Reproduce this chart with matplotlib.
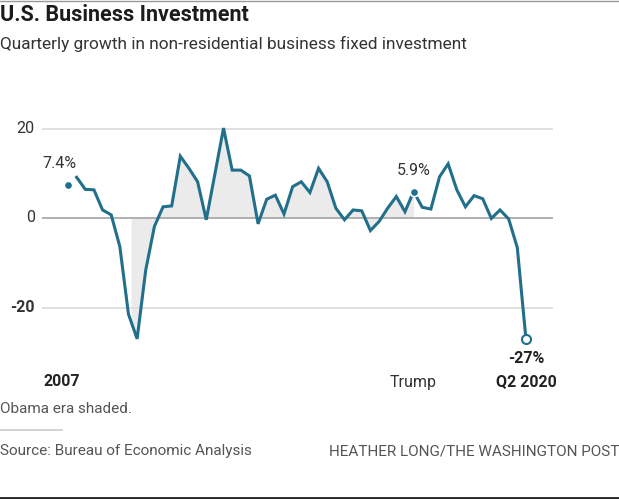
import matplotlib
matplotlib.use("Agg")
import matplotlib.pyplot as plt
import matplotlib.transforms as mtransforms
import numpy as np

# Quarterly growth (%), 2007 Q1 .. 2020 Q2
quarters = np.arange(54)
growth = [
    7.4, 9.1, 6.4, 6.3, 1.8, 0.7, -6.4, -21.5, -27.0, -11.6,
    -1.9, 2.5, 2.7, 13.8, 11.1, 8.1, -0.4, 9.8, 20.1, 10.7,
    10.7, 9.4, -1.3, 4.2, 5.1, 0.9, 7.0, 8.1, 5.7, 11.1,
    8.1, 2.2, -0.4, 1.8, 1.6, -2.8, -0.8, 2.2, 4.8, 1.4,
    5.9, 2.4, 2.0, 9.2, 12.1, 6.3, 2.5, 5.0, 4.3, -0.1,
    1.8, -0.2, -6.6, -27.0,
]
obama_span = (7.3, 40.0)      # quarter index range shaded
callouts = [(0, "7.4%"), (40, "5.9%")]
yticks = [20, 0, -20]

LINE = "#226f8b"
FONT = ["Liberation Sans Narrow", "Roboto", "DejaVu Sans"]

W, H = 619, 499
fig = plt.figure(figsize=(W / 100, H / 100), dpi=100)
fig.patch.set_facecolor("white")

# axes placed so the gridlines run from x=42 to x=553 px
ax = fig.add_axes([41.7 / W, 1 - 350 / H, 511 / W, 250 / H])
ax.set_xlim((41.7 - 68) / 8.64, (552.7 - 68) / 8.64)
ax.set_ylim((218 - 350) / 4.475, (218 - 100) / 4.475)
ax.set_axis_off()

for v in yticks:
    ax.axhline(v, color="#aaaaaa" if v == 0 else "#dddddd", lw=1.3, zorder=1)

y = np.asarray(growth)
x = quarters
lo, hi = obama_span
inside = (x > lo) & (x < hi)
fx = np.concatenate([[lo], x[inside], [hi]])
fy = np.concatenate([[np.interp(lo, x, y)], y[inside], [np.interp(hi, x, y)]])
ax.fill_between(fx, fy, 0, color="#ebebeb", lw=0, zorder=0)

ax.plot(x[1:], y[1:], color=LINE, lw=2.2, solid_joinstyle="miter", zorder=3)
for i, lab in callouts:
    ax.plot(x[i], y[i], "o", ms=6, color=LINE, mec="white", mew=1.2, zorder=4)
    ax.annotate(lab, (x[i], y[i]), xytext=(-6 if i == 0 else 0, 10),
                textcoords="offset points", ha="center", va="bottom",
                fontsize=11.5, color="#333333", family=FONT)
ax.plot(x[-1], y[-1], "o", ms=6.5, mfc="white", mec=LINE, mew=1.5, zorder=5)
ax.annotate(f"{y[-1]:.0f}%", (x[-1], y[-1]), xytext=(0, -9),
            textcoords="offset points", ha="center", va="top",
            fontsize=11.5, weight="bold", color="#222222", family=FONT)

# y labels sit left of the gridlines
for v in yticks:
    ax.annotate(f"{v}", (0, v), xycoords=("axes fraction", "data"),
                xytext=(-5, 0), textcoords="offset points",
                ha="right", va="center", fontsize=11.5, color="#333333",
                weight="bold" if v < 0 else "normal", family=FONT)

# x labels
tr = mtransforms.blended_transform_factory(ax.transData, fig.transFigure)
ylab = 1 - 382 / H
ax.text(-0.75, ylab, "2007", transform=tr, ha="center", va="center",
        fontsize=11.5, weight="bold", color="#222222", family=FONT)
ax.text(40, ylab, "Trump", transform=tr, ha="center", va="center",
        fontsize=11.5, color="#333333", family=FONT)
ax.text(53, ylab, "Q2 2020", transform=tr, ha="center", va="center",
        fontsize=11.5, weight="bold", color="#222222", family=FONT)

fig.text(0, 1 - 15 / H, "U.S. Business Investment", ha="left", va="center",
         fontsize=15.5, weight="bold", color="#1c1c1c", family=FONT)
fig.text(0, 1 - 44 / H,
         "Quarterly growth in non-residential business fixed investment",
         ha="left", va="center", fontsize=12.4, color="#333333", family=FONT)
fig.text(0, 1 - 409 / H, "Obama era shaded.", ha="left", va="center",
         fontsize=11, color="#555555", family=FONT)
fig.add_artist(plt.Line2D([0, 62 / W], [1 - 430 / H] * 2, color="#cccccc",
                          lw=1.2, transform=fig.transFigure))
fig.text(0, 1 - 451 / H, "Source: Bureau of Economic Analysis", ha="left",
         va="center", fontsize=11, color="#555555", family=FONT)
fig.text(1, 1 - 451 / H, "HEATHER LONG/THE WASHINGTON POST", ha="right",
         va="center", fontsize=11, color="#555555", family=FONT)

# screenshot frame edges
fig.add_artist(plt.Line2D([0, 1], [1 - 0.5 / H] * 2, color="#999999", lw=1,
                          transform=fig.transFigure))
fig.add_artist(plt.Line2D([0, 1], [1 / H] * 2, color="#222222", lw=2,
                          transform=fig.transFigure))

fig.savefig("out.png", dpi=100, facecolor="white")
